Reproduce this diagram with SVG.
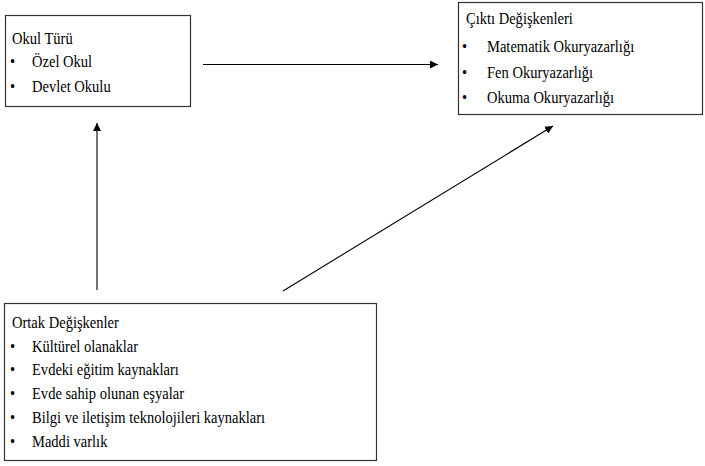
<svg xmlns="http://www.w3.org/2000/svg" width="705" height="466" viewBox="0 0 705 466">
<style>
.box{fill:#fff;stroke:#333;stroke-width:1.2}
.t{font-family:'Liberation Serif','Times New Roman',serif;font-size:17.5px;fill:#000}
.c{stroke:#000;stroke-width:1.1;fill:none}
</style>
<defs>
<marker id="ah" viewBox="0 0 10 10" refX="10" refY="5" markerWidth="8" markerHeight="8" markerUnits="userSpaceOnUse" orient="auto">
<path d="M0,0 L10,5 L0,10 Z" fill="#000"/>
</marker>
</defs>
<rect width="705" height="466" fill="#fff"/>
<g id="okul-turu" class="t">
<rect class="box" x="5.5" y="15.5" width="185" height="91"/>
<text transform="translate(12 43.5) scale(0.83 1)">Okul Türü</text>
<text transform="translate(10 67) scale(0.83 1)">•</text>
<text transform="translate(32 67) scale(0.83 1)">Özel Okul</text>
<text transform="translate(10 91.5) scale(0.83 1)">•</text>
<text transform="translate(32 91.5) scale(0.83 1)">Devlet Okulu</text>
</g>
<g id="cikti-degiskenleri" class="t">
<rect class="box" x="458.5" y="2.5" width="244" height="112"/>
<text transform="translate(466 24) scale(0.83 1)">Çıktı Değişkenleri</text>
<text transform="translate(462 52) scale(0.83 1)">•</text>
<text transform="translate(487 52) scale(0.83 1)">Matematik Okuryazarlığı</text>
<text transform="translate(462 77.5) scale(0.83 1)">•</text>
<text transform="translate(487 77.5) scale(0.83 1)">Fen Okuryazarlığı</text>
<text transform="translate(462 102.5) scale(0.83 1)">•</text>
<text transform="translate(487 102.5) scale(0.83 1)">Okuma Okuryazarlığı</text>
</g>
<g id="ortak-degiskenler" class="t">
<rect class="box" x="4.5" y="303.5" width="372" height="157"/>
<text transform="translate(12 327.5) scale(0.83 1)">Ortak Değişkenler</text>
<text transform="translate(10 351.5) scale(0.83 1)">•</text>
<text transform="translate(32 351.5) scale(0.83 1)">Kültürel olanaklar</text>
<text transform="translate(10 375) scale(0.83 1)">•</text>
<text transform="translate(32 375) scale(0.83 1)">Evdeki eğitim kaynakları</text>
<text transform="translate(10 399) scale(0.83 1)">•</text>
<text transform="translate(32 399) scale(0.83 1)">Evde sahip olunan eşyalar</text>
<text transform="translate(10 423) scale(0.83 1)">•</text>
<text transform="translate(32 423) scale(0.83 1)">Bilgi ve iletişim teknolojileri kaynakları</text>
<text transform="translate(10 447) scale(0.83 1)">•</text>
<text transform="translate(32 447) scale(0.83 1)">Maddi varlık</text>
</g>
<g id="connectors">
<line class="c" x1="203" y1="64.5" x2="438" y2="64.5" marker-end="url(#ah)"/>
<line class="c" x1="97" y1="290" x2="97" y2="123" marker-end="url(#ah)"/>
<line class="c" x1="283" y1="291" x2="553" y2="126" marker-end="url(#ah)"/>
</g>
</svg>
